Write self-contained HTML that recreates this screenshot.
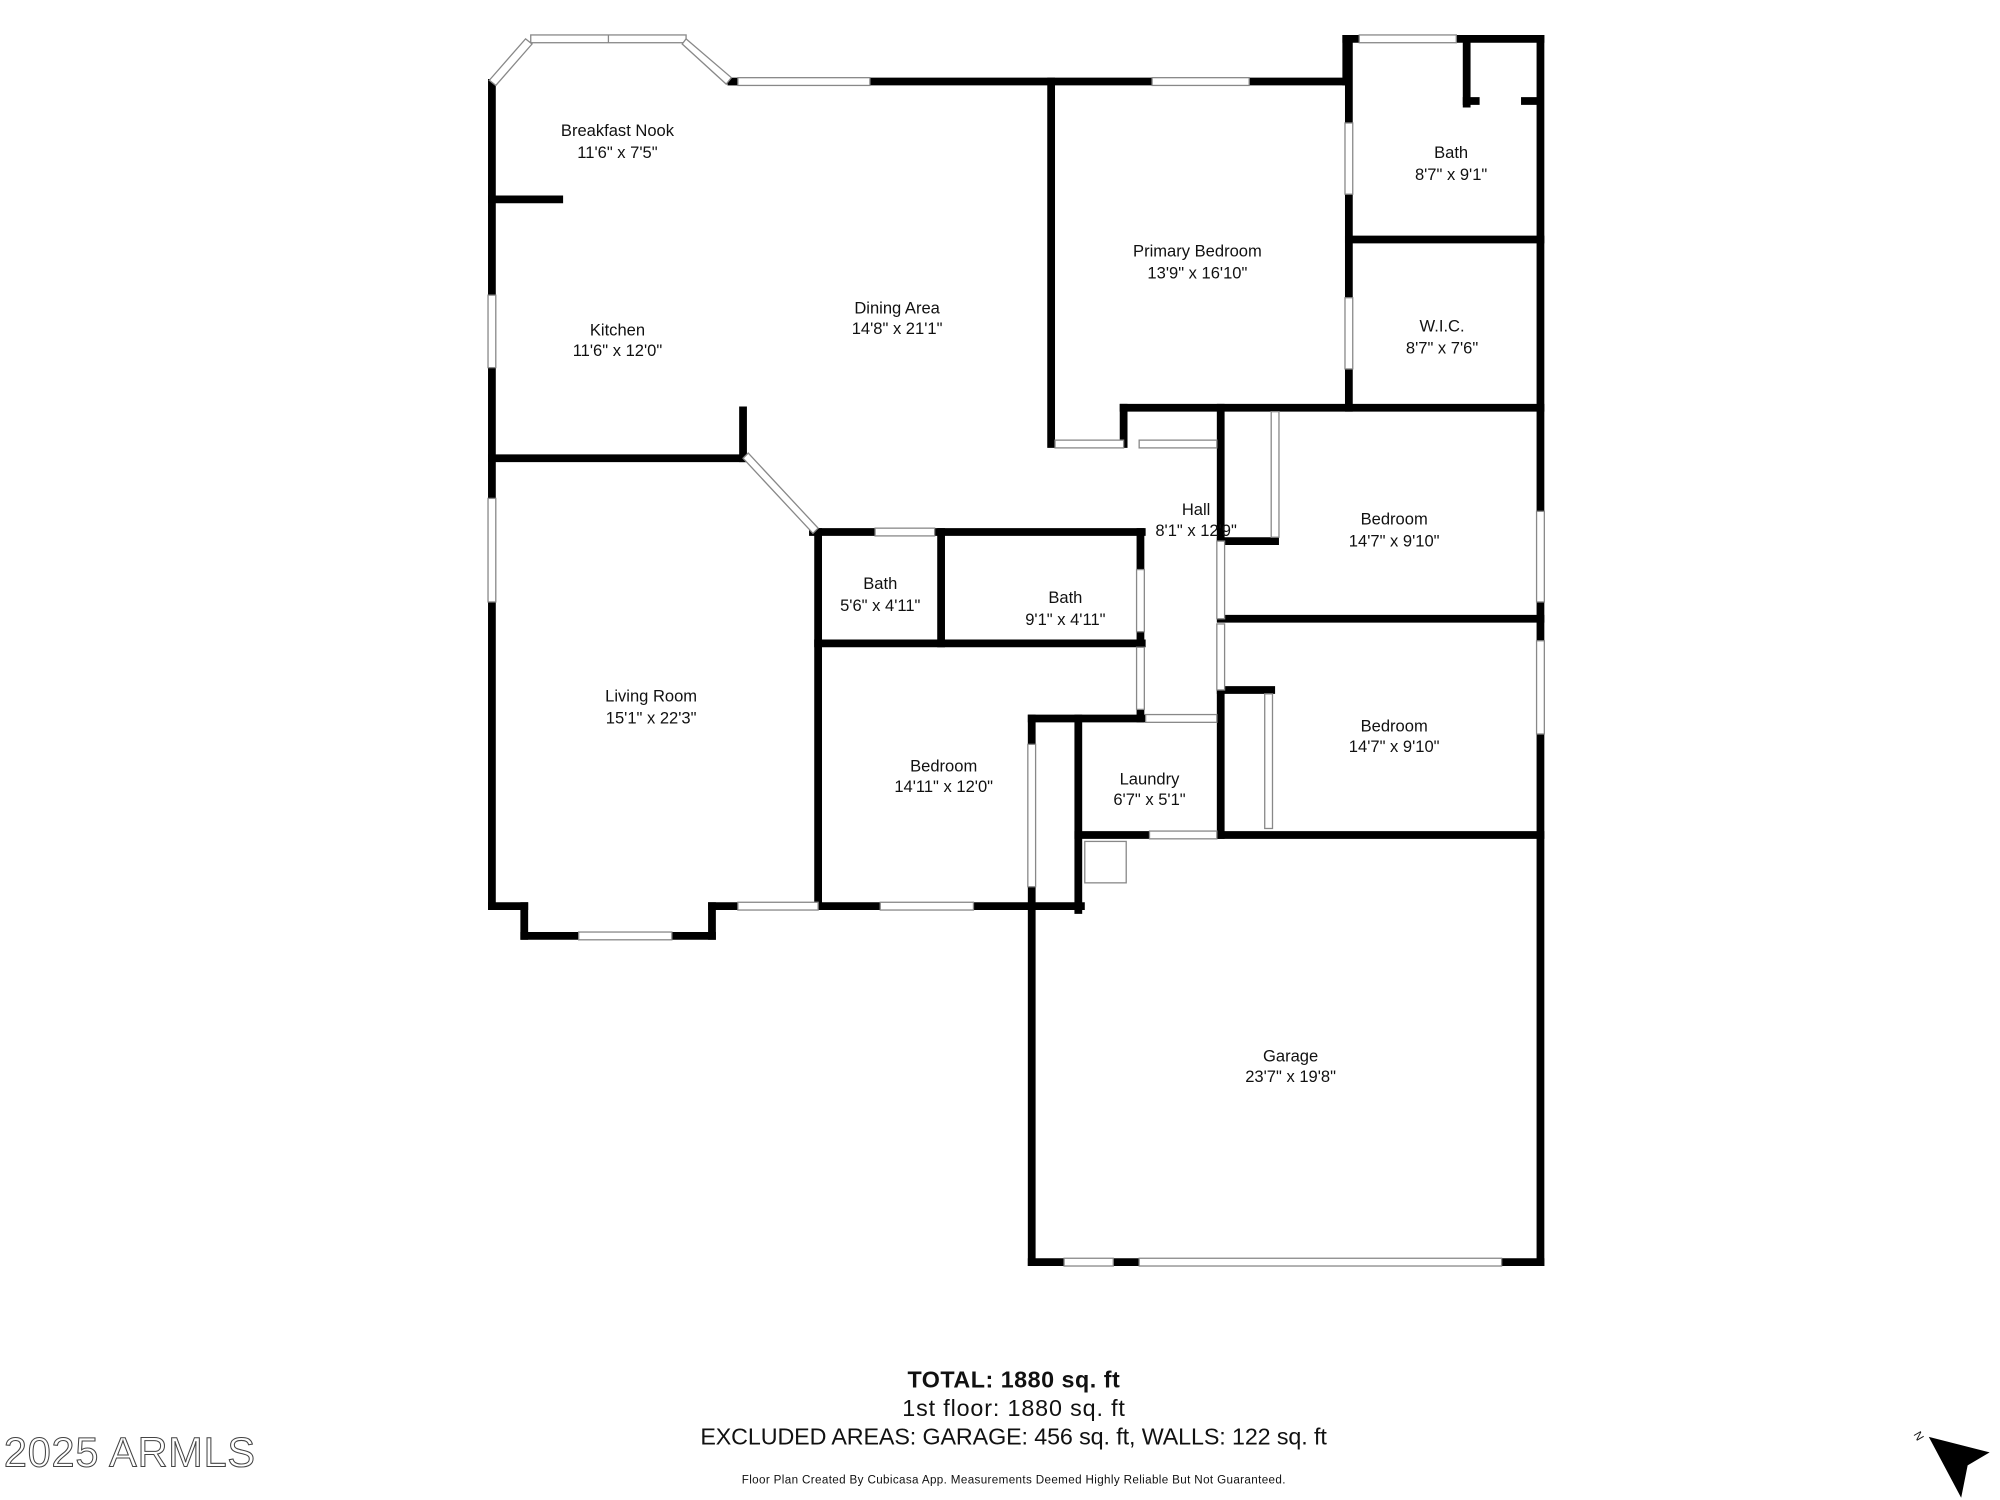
<!DOCTYPE html>
<html><head><meta charset="utf-8"><style>
html,body{margin:0;padding:0;background:#fff;}
svg{display:block;}
text{font-family:"Liberation Sans",sans-serif;fill:#111;}
</style></head><body>
<svg width="2000" height="1500" viewBox="0 0 1545 1158.75" xmlns="http://www.w3.org/2000/svg">
<g stroke="#000" stroke-width="6" stroke-linecap="square" fill="none">
<line x1="380" y1="64" x2="380" y2="700"/>
<line x1="380" y1="700" x2="405" y2="700"/>
<line x1="405" y1="700" x2="405" y2="723"/>
<line x1="405" y1="723" x2="550" y2="723"/>
<line x1="550" y1="723" x2="550" y2="700"/>
<line x1="550" y1="700" x2="570" y2="700"/>
<line x1="632" y1="700" x2="835" y2="700"/>
<line x1="565" y1="63" x2="570" y2="63"/>
<line x1="672" y1="63" x2="1040" y2="63"/>
<line x1="1040" y1="63" x2="1040" y2="30"/>
<line x1="1040" y1="30" x2="1190" y2="30"/>
<line x1="1190" y1="30" x2="1190" y2="975"/>
<line x1="380" y1="154" x2="432" y2="154"/>
<line x1="574" y1="317" x2="574" y2="354"/>
<line x1="380" y1="354" x2="574" y2="354"/>
<line x1="628" y1="411" x2="882" y2="411"/>
<line x1="632" y1="411" x2="632" y2="700"/>
<line x1="727" y1="411" x2="727" y2="497"/>
<line x1="632" y1="497" x2="882" y2="497"/>
<line x1="881" y1="411" x2="881" y2="440"/>
<line x1="881" y1="488" x2="881" y2="500"/>
<line x1="881" y1="548" x2="881" y2="555"/>
<line x1="797" y1="555" x2="882" y2="555"/>
<line x1="797" y1="555" x2="797" y2="575"/>
<line x1="797" y1="685" x2="797" y2="975"/>
<line x1="833" y1="555" x2="833" y2="703"/>
<line x1="833" y1="645" x2="888" y2="645"/>
<line x1="940" y1="645" x2="1190" y2="645"/>
<line x1="797" y1="975" x2="822" y2="975"/>
<line x1="860" y1="975" x2="880" y2="975"/>
<line x1="1160" y1="975" x2="1190" y2="975"/>
<line x1="812" y1="63" x2="812" y2="343"/>
<line x1="868" y1="315" x2="868" y2="343"/>
<line x1="868" y1="315" x2="1190" y2="315"/>
<line x1="1042" y1="30" x2="1042" y2="95"/>
<line x1="1042" y1="150" x2="1042" y2="230"/>
<line x1="1042" y1="285" x2="1042" y2="315"/>
<line x1="1042" y1="185" x2="1190" y2="185"/>
<line x1="1133" y1="30" x2="1133" y2="80"/>
<line x1="1133" y1="78" x2="1140" y2="78"/>
<line x1="1178" y1="78" x2="1187" y2="78"/>
<line x1="943" y1="315" x2="943" y2="418"/>
<line x1="943" y1="418" x2="985" y2="418"/>
<line x1="943" y1="478" x2="1190" y2="478"/>
<line x1="943" y1="533" x2="943" y2="645"/>
<line x1="943" y1="533" x2="982" y2="533"/>
</g>
<g fill="#fff" stroke="#888" stroke-width="1">
<rect x="410" y="27" width="120" height="6"/>
<line x1="470" y1="27" x2="470" y2="33"/>
<polygon points="378,62 406,30 411,34 383,66"/>
<polygon points="530,30 565,60 561,65 527,34"/>
<rect x="570" y="60" width="102" height="6"/>
<rect x="890" y="60" width="75" height="6"/>
<rect x="1050" y="27" width="75" height="6"/>
<rect x="377" y="228" width="6" height="56"/>
<rect x="377" y="385" width="6" height="80"/>
<rect x="1187" y="395" width="6" height="70"/>
<rect x="1187" y="495" width="6" height="72"/>
<polygon points="574,354 578,350 632,408 628,412"/>
<rect x="676" y="408" width="46" height="6"/>
<rect x="447" y="720" width="72" height="6"/>
<rect x="570" y="697" width="62" height="6"/>
<rect x="680" y="697" width="72" height="6"/>
<rect x="794" y="575" width="6" height="110"/>
<rect x="822" y="972" width="38" height="6"/>
<rect x="880" y="972" width="280" height="6"/>
<rect x="815" y="340" width="53" height="6"/>
<rect x="880" y="340" width="60" height="6"/>
<rect x="1039" y="95" width="6" height="55"/>
<rect x="1039" y="230" width="6" height="55"/>
<rect x="982" y="318" width="6" height="97"/>
<rect x="940" y="418" width="6" height="60"/>
<rect x="940" y="482" width="6" height="51"/>
<rect x="977" y="536" width="6" height="104"/>
<rect x="878" y="440" width="6" height="48"/>
<rect x="878" y="500" width="6" height="48"/>
<rect x="885" y="552" width="55" height="6"/>
<rect x="888" y="642" width="52" height="6"/>
<rect x="838" y="650" width="32" height="32" fill="none"/>
</g>
<g font-size="12.8" text-anchor="middle">
<text x="477" y="105">Breakfast Nook</text><text x="477" y="122">11'6" x 7'5"</text>
<text x="477" y="259">Kitchen</text><text x="477" y="275">11'6" x 12'0"</text>
<text x="693" y="242">Dining Area</text><text x="693" y="258">14'8" x 21'1"</text>
<text x="925" y="198">Primary Bedroom</text><text x="925" y="215">13'9" x 16'10"</text>
<text x="1121" y="122">Bath</text><text x="1121" y="139">8'7" x 9'1"</text>
<text x="1114" y="256">W.I.C.</text><text x="1114" y="273">8'7" x 7'6"</text>
<text x="924" y="398">Hall</text><text x="924" y="414">8'1" x 12'9"</text>
<text x="1077" y="405">Bedroom</text><text x="1077" y="422">14'7" x 9'10"</text>
<text x="1077" y="565">Bedroom</text><text x="1077" y="581">14'7" x 9'10"</text>
<text x="680" y="455">Bath</text><text x="680" y="472">5'6" x 4'11"</text>
<text x="823" y="466">Bath</text><text x="823" y="483">9'1" x 4'11"</text>
<text x="503" y="542">Living Room</text><text x="503" y="559">15'1" x 22'3"</text>
<text x="729" y="596">Bedroom</text><text x="729" y="612">14'11" x 12'0"</text>
<text x="888" y="606">Laundry</text><text x="888" y="622">6'7" x 5'1"</text>
<text x="997" y="820">Garage</text><text x="997" y="836">23'7" x 19'8"</text>
<text x="783" y="1072" font-size="18" font-weight="bold" textLength="164">TOTAL: 1880 sq. ft</text>
<text x="783" y="1094" font-size="18" textLength="172">1st floor: 1880 sq. ft</text>
<text x="783" y="1116" font-size="18" textLength="484">EXCLUDED AREAS: GARAGE: 456 sq. ft, WALLS: 122 sq. ft</text>
<text x="783" y="1146" font-size="9" textLength="420">Floor Plan Created By Cubicasa App. Measurements Deemed Highly Reliable But Not Guaranteed.</text>
</g>
<text x="3" y="1133" font-size="32" textLength="194" stroke="#444" stroke-width="0.8" style="fill:#fff">2025 ARMLS</text>
<polygon points="1490,1110 1537,1122 1520,1132 1515,1157" fill="#000"/>
<text x="1478" y="1108" font-size="9" transform="rotate(60 1478 1108)">N</text>
</svg>
</body></html>
